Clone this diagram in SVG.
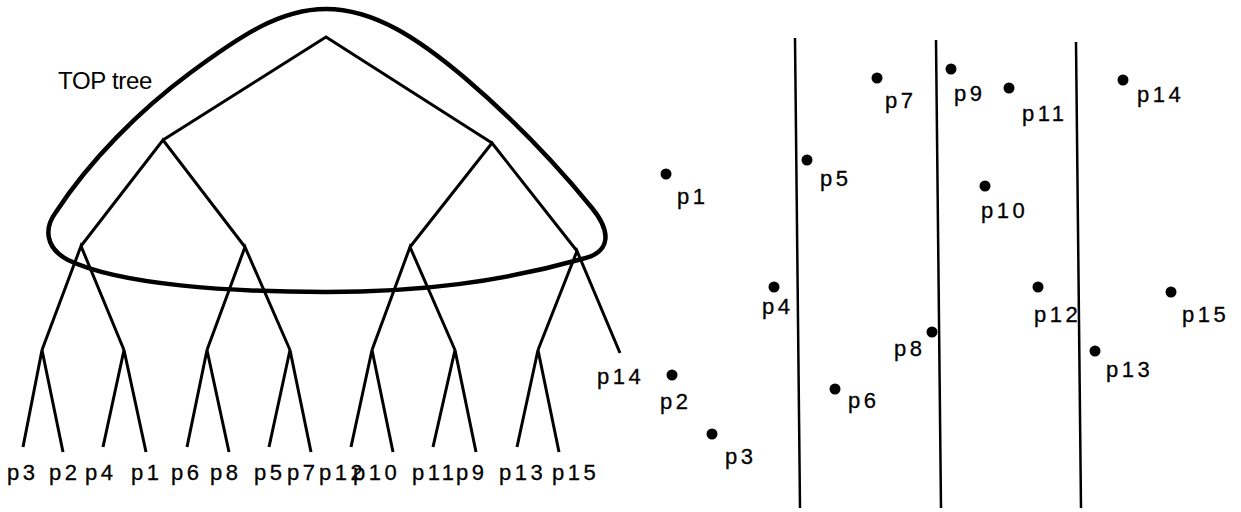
<svg xmlns="http://www.w3.org/2000/svg" width="1241" height="512" viewBox="0 0 1241 512">
<style>
.bg{fill:#fff}
.edge{fill:none;stroke:#000;stroke-width:3;stroke-linejoin:miter;stroke-linecap:butt}
.hull{fill:none;stroke:#000;stroke-width:4.5}
.vline{fill:none;stroke:#000;stroke-width:2.5}
.dot{fill:#000}
.lbl{font-family:"Liberation Sans",Arial,sans-serif;font-size:22px;letter-spacing:3.5px;fill:#000;stroke:#000;stroke-width:0.3}
.title{font-family:"Liberation Sans",Arial,sans-serif;font-size:24px;letter-spacing:-0.3px;fill:#000}
</style>
<rect class="bg" x="0" y="0" width="1241" height="512"/>
<g id="connectors">
  <g id="tree-edges">
    <polyline class="edge" points="163,140 326,37 492,143"/>
    <polyline class="edge" points="81,246 163,140 245,247"/>
    <polyline class="edge" points="410,247 492,143 577,251"/>
    <polyline class="edge" points="42,350 81,246 124,350"/>
    <polyline class="edge" points="207,350 245,247 290,350"/>
    <polyline class="edge" points="372,350 410,247 455,350"/>
    <polyline class="edge" points="538,350 577,251 620,353"/>
    <polyline class="edge" points="23,447 42,350 63,452"/>
    <polyline class="edge" points="103,447 124,350 146,452"/>
    <polyline class="edge" points="187,447 207,350 229,452"/>
    <polyline class="edge" points="269,447 290,350 311,452"/>
    <polyline class="edge" points="351,447 372,350 393,452"/>
    <polyline class="edge" points="433,447 455,350 476,452"/>
    <polyline class="edge" points="517,447 538,350 559,452"/>
  </g>
  <g id="split-lines">
    <line class="vline" x1="795" y1="38" x2="800" y2="508"/>
    <line class="vline" x1="936" y1="40" x2="941" y2="508"/>
    <line class="vline" x1="1076" y1="42" x2="1081" y2="508"/>
  </g>
</g>
<g id="top-tree">
  <path class="hull" d="M326,9 C375,9 420,40 465,78 C520,125 565,175 592,208 C610,230 613,252 582,259 C500,282 420,292 326,292 C230,292 120,285 68,260 C45,248 44,228 56,212 C90,160 140,110 190,73 C240,36 280,9 326,9 Z"/>
  <text class="title" x="58" y="89">TOP tree</text>
</g>
<g id="leaf-labels">
  <g id="leaf-p3"><text class="lbl" x="7" y="480">p3</text></g>
  <g id="leaf-p2"><text class="lbl" x="49" y="480">p2</text></g>
  <g id="leaf-p4"><text class="lbl" x="85" y="480">p4</text></g>
  <g id="leaf-p1"><text class="lbl" x="131" y="480">p1</text></g>
  <g id="leaf-p6"><text class="lbl" x="171" y="480">p6</text></g>
  <g id="leaf-p8"><text class="lbl" x="210" y="480">p8</text></g>
  <g id="leaf-p5"><text class="lbl" x="254" y="480">p5</text></g>
  <g id="leaf-p7"><text class="lbl" x="287" y="480">p7</text></g>
  <g id="leaf-p12"><text class="lbl" x="319" y="480">p12</text></g>
  <g id="leaf-p10"><text class="lbl" x="353" y="480">p10</text></g>
  <g id="leaf-p11"><text class="lbl" x="412" y="480">p11</text></g>
  <g id="leaf-p9"><text class="lbl" x="456" y="480">p9</text></g>
  <g id="leaf-p13"><text class="lbl" x="499" y="480">p13</text></g>
  <g id="leaf-p15"><text class="lbl" x="552" y="480">p15</text></g>
  <g id="leaf-p14"><text class="lbl" x="597" y="384">p14</text></g>
</g>
<g id="points">
  <g id="pt-p1"><circle class="dot" cx="666" cy="174" r="5.5"/><text class="lbl" x="677" y="204">p1</text></g>
  <g id="pt-p2"><circle class="dot" cx="672" cy="375" r="5.5"/><text class="lbl" x="660" y="409">p2</text></g>
  <g id="pt-p3"><circle class="dot" cx="712" cy="434" r="5.5"/><text class="lbl" x="725" y="464">p3</text></g>
  <g id="pt-p4"><circle class="dot" cx="774" cy="287" r="5.5"/><text class="lbl" x="762" y="314">p4</text></g>
  <g id="pt-p5"><circle class="dot" cx="807" cy="160" r="5.5"/><text class="lbl" x="820" y="186">p5</text></g>
  <g id="pt-p6"><circle class="dot" cx="835" cy="389" r="5.5"/><text class="lbl" x="848" y="408">p6</text></g>
  <g id="pt-p7"><circle class="dot" cx="877" cy="78" r="5.5"/><text class="lbl" x="885" y="108">p7</text></g>
  <g id="pt-p8"><circle class="dot" cx="932" cy="332" r="5.5"/><text class="lbl" x="894" y="356">p8</text></g>
  <g id="pt-p9"><circle class="dot" cx="951" cy="69" r="5.5"/><text class="lbl" x="954" y="101">p9</text></g>
  <g id="pt-p10"><circle class="dot" cx="985" cy="186" r="5.5"/><text class="lbl" x="981" y="218">p10</text></g>
  <g id="pt-p11"><circle class="dot" cx="1009" cy="88" r="5.5"/><text class="lbl" x="1022" y="121">p11</text></g>
  <g id="pt-p12"><circle class="dot" cx="1038" cy="287" r="5.5"/><text class="lbl" x="1034" y="322">p12</text></g>
  <g id="pt-p13"><circle class="dot" cx="1095" cy="351" r="5.5"/><text class="lbl" x="1106" y="377">p13</text></g>
  <g id="pt-p14"><circle class="dot" cx="1123" cy="80" r="5.5"/><text class="lbl" x="1137" y="102">p14</text></g>
  <g id="pt-p15"><circle class="dot" cx="1171" cy="292" r="5.5"/><text class="lbl" x="1182" y="322">p15</text></g>
</g>
</svg>
